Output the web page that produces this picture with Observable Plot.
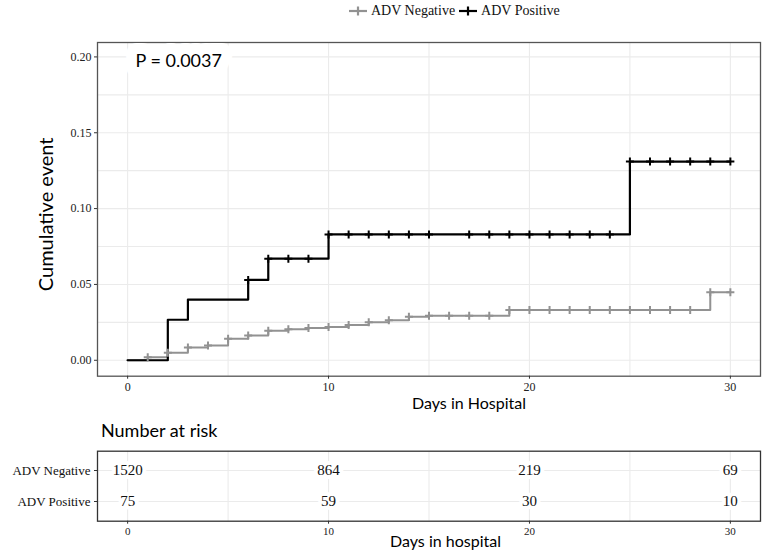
<!DOCTYPE html>
<html>
<head>
<meta charset="utf-8">
<script src="https://cdn.jsdelivr.net/npm/d3@7"></script>
<script src="https://cdn.jsdelivr.net/npm/@observablehq/plot@0.6"></script>
<style>
  body { margin: 0; background: #fff; width: 765px; }
  svg { display: block; }
  #legend { height: 24px; position: relative; }
  #legend .items { position: absolute; left: 348px; top: 3px; display: flex; align-items: center;
    font-family: "Liberation Serif", serif; font-size: 14px; color: #111; }
  #legend .item { display: flex; align-items: center; margin-right: 3px; }
  #legend .item span { margin-left: 3px; }
  #risktitle { height: 24px; line-height: 24px; padding-left: 101px; font-family: Lato, sans-serif;
    font-size: 18px; color: #000; }
</style>
</head>
<body>
<div id="legend"><div class="items"></div></div>
<div id="main"></div>
<div id="risktitle">Number at risk</div>
<div id="risk"></div>
<script>
// ---------- data ----------
const groups = ["ADV Negative", "ADV Positive"];
const groupColors = ["#929292", "#000000"];

// cumulative event step functions (time of step, value after step)
const negTimes  = [0, 1, 2, 3, 4, 5, 6, 7, 8, 9, 10, 11, 12, 13, 14, 15, 19, 29];
const negValues = [0, 0.002, 0.005, 0.0085, 0.0098, 0.0142, 0.0163, 0.0195, 0.0205, 0.0213, 0.022, 0.0232, 0.025, 0.0264, 0.0287, 0.0294, 0.0331, 0.0448];
const posTimes  = [0, 2, 3, 6, 7, 10, 25];
const posValues = [0, 0.0267, 0.0400, 0.0530, 0.0670, 0.0830, 0.1310];
const lastDay = 30;

// censoring marks (days)
const negCensor = [1,2,3,4,5,6,7,8,9,10,11,12,13,14,15,16,17,18,19,20,21,22,23,24,25,26,27,28,29,30];
const posCensor = [6,7,8,9,10,11,12,13,14,15,17,18,19,20,21,22,23,24,25,26,27,28,29,30];

// number at risk table
const riskTimes = [0, 10, 20, 30];
const riskNeg = [1520, 864, 219, 69];
const riskPos = [75, 59, 30, 10];

// axes
const xTicks = [0, 10, 20, 30];
const xGrid = [0, 5, 10, 15, 20, 25, 30];
const yTicks = [0, 0.05, 0.10, 0.15, 0.20];
const yGrid = [0, 0.025, 0.05, 0.075, 0.10, 0.125, 0.15, 0.175, 0.20];
const pValueText = "P = 0.0037";
const xLabelTop = "Days in Hospital";
const yLabelTop = "Cumulative event";
const xLabelRisk = "Days in hospital";

// ---------- helpers ----------
const serif = "Liberation Serif, serif";
const sans = "Lato, sans-serif";
const stepAt = (times, values, t) => { let v = values[0]; times.forEach((tt, i) => { if (tt <= t) v = values[i]; }); return v; };
const curve = (g, times, values) => times.map((t, i) => ({group: g, t, v: values[i]}))
  .concat([{group: g, t: lastDay, v: values[values.length - 1]}]);
const censor = (g, times, values, days) => days.map(t => ({group: g, t, v: stepAt(times, values, t)}));

const negLine = curve(groups[0], negTimes, negValues);
const posLine = curve(groups[1], posTimes, posValues);
const negMarks = censor(groups[0], negTimes, negValues, negCensor);
const posMarks = censor(groups[1], posTimes, posValues, posCensor);

const plusSymbol = {
  draw(ctx, size) {
    const r = Math.sqrt(size / Math.PI);
    ctx.moveTo(-r, 0); ctx.lineTo(r, 0);
    ctx.moveTo(0, -r); ctx.lineTo(0, r);
  }
};

// ---------- legend ----------
const legendItems = d3.select("#legend .items");
groups.forEach((g, i) => {
  const item = legendItems.append("div").attr("class", "item");
  const s = item.append("svg").attr("width", 20).attr("height", 12);
  s.append("line").attr("x1", 1).attr("x2", 19).attr("y1", 6).attr("y2", 6)
    .attr("stroke", groupColors[i]).attr("stroke-width", 2.2);
  s.append("line").attr("x1", 10).attr("x2", 10).attr("y1", 1.5).attr("y2", 10.5)
    .attr("stroke", groupColors[i]).attr("stroke-width", 2.2);
  item.append("span").text(g);
});

// ---------- main chart ----------
const main = Plot.plot({
  width: 765, height: 394,
  marginTop: 18, marginBottom: 42.3, marginLeft: 97, marginRight: 5,
  x: {domain: [-1.5, 31.5]},
  y: {domain: [-0.0105, 0.2095]},
  style: {background: "#fff", fontSize: "12px", fontFamily: serif, color: "#222"},
  marks: [
    Plot.gridX(xGrid, {stroke: "#ebebeb", strokeOpacity: 1, strokeWidth: 1.1}),
    Plot.gridY(yGrid, {stroke: "#ebebeb", strokeOpacity: 1, strokeWidth: 1.1}),
    Plot.frame({stroke: "#555", strokeWidth: 1.3}),
    Plot.axisY(yTicks, {tickFormat: d3.format(".2f"), tickSize: 3, tickPadding: 3,
      stroke: "#333", label: null}),
    Plot.axisX(xTicks, {tickSize: 3, tickPadding: 3, stroke: "#333", label: null}),
    Plot.line(negLine, {x: "t", y: "v", curve: "step-after", stroke: groupColors[0], strokeWidth: 2}),
    Plot.line(posLine, {x: "t", y: "v", curve: "step-after", stroke: groupColors[1], strokeWidth: 2.2}),
    Plot.dot(negMarks, {x: "t", y: "v", symbol: plusSymbol, r: 4, fill: "none", stroke: groupColors[0], strokeWidth: 2}),
    Plot.dot(posMarks, {x: "t", y: "v", symbol: plusSymbol, r: 4, fill: "none", stroke: groupColors[1], strokeWidth: 2}),
    Plot.text([pValueText], {frameAnchor: "top-left", textAnchor: "start", lineAnchor: "middle", dx: 38, dy: 19,
      fontSize: 18, fontFamily: sans, fill: "#000", stroke: "white", strokeWidth: 22, paintOrder: "stroke"}),
    Plot.text([xLabelTop], {frameAnchor: "bottom", textAnchor: "middle", lineAnchor: "middle", dx: 40, dy: 28,
      fontSize: 16, fontFamily: sans, fill: "#000"}),
    Plot.text([yLabelTop], {frameAnchor: "left", textAnchor: "middle", lineAnchor: "middle", rotate: -90, dx: -51, dy: 5,
      fontSize: 20, fontFamily: sans, fill: "#000"})
  ]
});
document.getElementById("main").append(main);

// ---------- risk table ----------
const riskData = riskTimes.flatMap((t, i) => [
  {group: groups[0], t, n: riskNeg[i]},
  {group: groups[1], t, n: riskPos[i]}
]);

const risk = Plot.plot({
  width: 765, height: 113,
  marginTop: 8.7, marginBottom: 34.3, marginLeft: 97, marginRight: 5,
  x: {domain: [-1.5, 31.5]},
  y: {type: "point", domain: groups, padding: 0.6},
  style: {background: "#fff", fontSize: "11px", fontFamily: serif, color: "#222"},
  marks: [
    Plot.gridX(xGrid, {stroke: "#ebebeb", strokeOpacity: 1, strokeWidth: 1.1}),
    Plot.gridY(groups, {stroke: "#ebebeb", strokeOpacity: 1, strokeWidth: 1.1}),
    Plot.frame({stroke: "#333", strokeWidth: 1.3}),
    Plot.axisY({tickSize: 3, tickPadding: 4, fontSize: 13, stroke: "#333", fill: "#111", label: null}),
    Plot.axisX(xTicks, {tickSize: 3, tickPadding: 3, stroke: "#333", label: null}),
    Plot.text(riskData, {x: "t", y: "group", text: d => String(d.n), fontSize: 15, fontFamily: serif, fill: "#111",
      stroke: "white", strokeWidth: 8, paintOrder: "stroke"}),
    Plot.text([xLabelRisk], {frameAnchor: "bottom", textAnchor: "middle", lineAnchor: "middle", dx: 16.5, dy: 20.5,
      fontSize: 16, fontFamily: sans, fill: "#000"})
  ]
});
document.getElementById("risk").append(risk);
</script>
</body>
</html>
